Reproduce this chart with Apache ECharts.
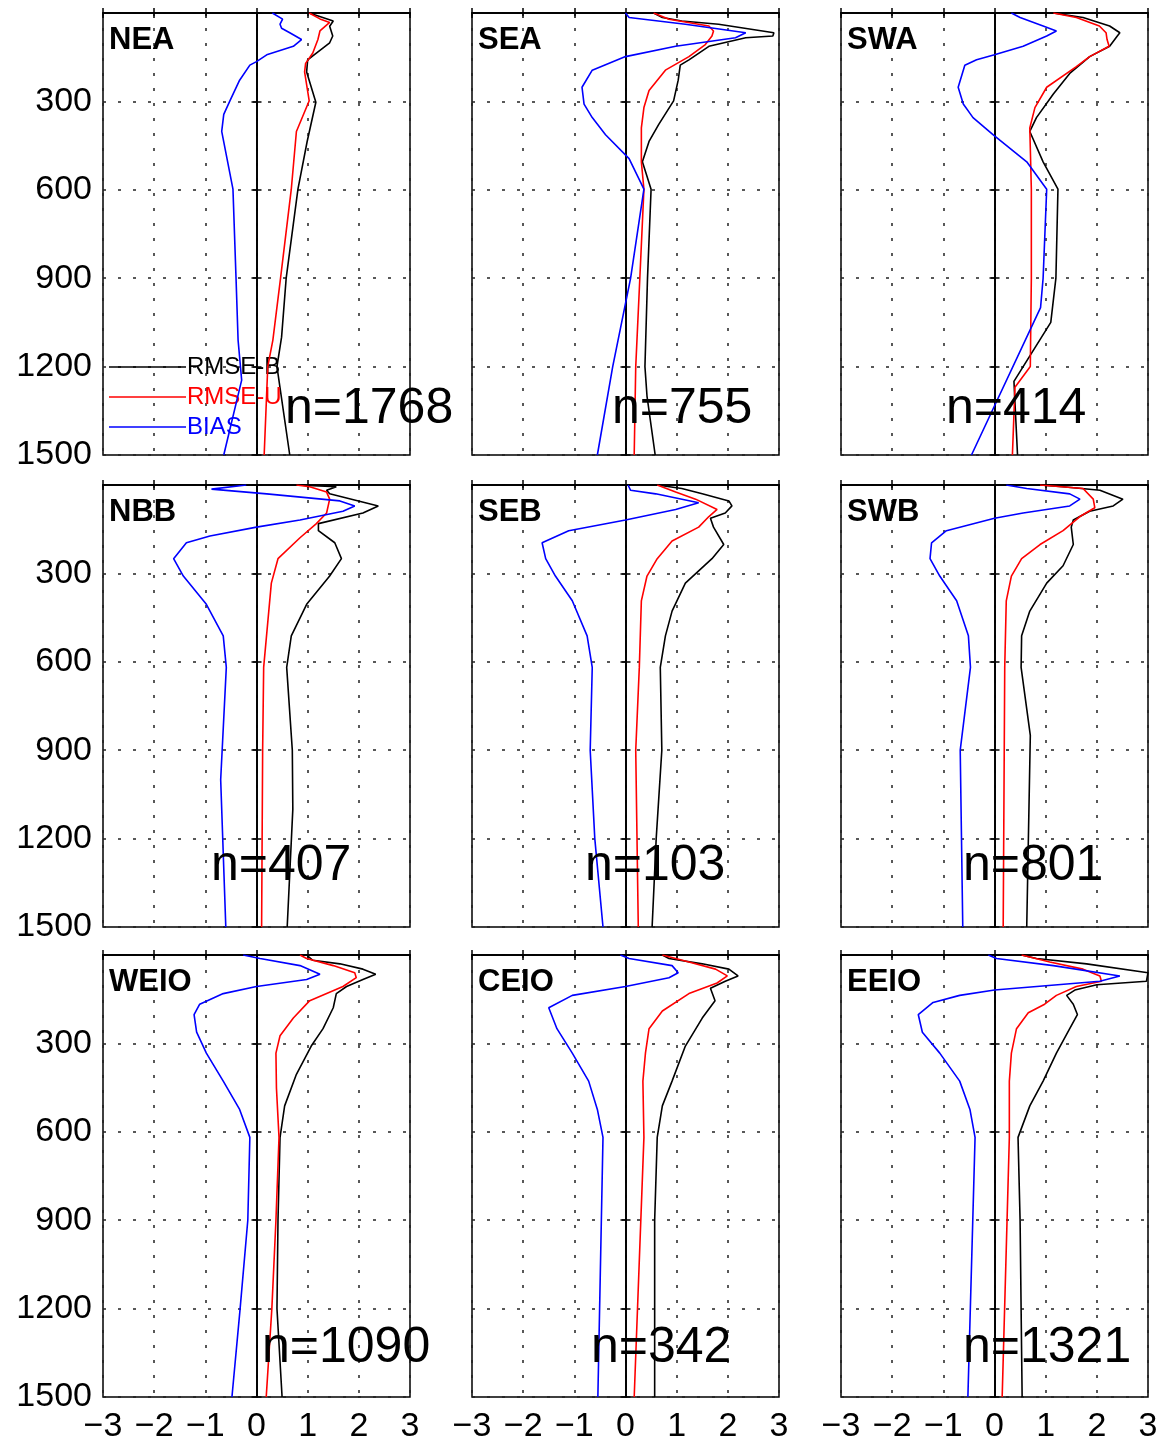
<!DOCTYPE html>
<html>
<head>
<meta charset="utf-8">
<script src="https://cdn.jsdelivr.net/npm/echarts@6/dist/echarts.min.js"></script>
<style>
  html, body { margin: 0; padding: 0; background: #fff; }
  #main { width: 1166px; height: 1442px; }
</style>
</head>
<body>
<div id="main"></div>
<script>
// region names and sample counts
var regions = ['NEA', 'SEA', 'SWA', 'NBB', 'SEB', 'SWB', 'WEIO', 'CEIO', 'EEIO'];
var counts = ['n=1768', 'n=755', 'n=414', 'n=407', 'n=103', 'n=801', 'n=1090', 'n=342', 'n=1321'];
var xTicks = [-3, -2, -1, 0, 1, 2, 3];
var depthTicks = [0, 300, 600, 900, 1200, 1500];

// NEA
var neaDepB = [0, 27, 45, 78, 101, 136, 159, 200, 303, 436, 598, 900, 1100, 1200, 1500];
var neaB    = [1.03, 1.5, 1.43, 1.49, 1.43, 1.17, 1.0, 0.98, 1.16, 0.99, 0.81, 0.58, 0.49, 0.4, 0.65];
var neaDepU = [0, 20, 32, 61, 90, 136, 171, 200, 298, 402, 598, 900, 1110, 1200, 1500];
var neaU    = [1.03, 1.24, 1.43, 1.24, 1.2, 1.1, 0.96, 0.94, 1.03, 0.78, 0.68, 0.47, 0.32, 0.22, 0.15];
var neaDepS = [0, 21, 38, 52, 67, 90, 113, 142, 165, 177, 228, 298, 344, 402, 598, 900, 1110, 1246, 1500];
var neaS    = [0.31, 0.51, 0.46, 0.49, 0.65, 0.88, 0.72, 0.2, 0, -0.13, -0.33, -0.52, -0.64, -0.68, -0.46, -0.4, -0.36, -0.29, -0.64];

// SEA
var seaDepB = [0, 15, 27, 38, 67, 78, 84, 113, 159, 177, 228, 298, 378, 436, 505, 598, 900, 1200, 1300, 1500];
var seaB    = [0.55, 0.72, 1.1, 1.82, 2.9, 2.88, 2.35, 1.63, 1.24, 1.07, 1.03, 0.94, 0.65, 0.46, 0.33, 0.5, 0.43, 0.38, 0.42, 0.58];
var seaDepU = [0, 21, 44, 61, 78, 107, 148, 194, 263, 321, 390, 505, 598, 900, 1200, 1500];
var seaU    = [0.55, 0.85, 1.63, 1.72, 1.69, 1.56, 1.24, 0.78, 0.46, 0.36, 0.31, 0.31, 0.36, 0.28, 0.2, 0.17];
var seaDepS = [0, 15, 38, 67, 84, 113, 148, 194, 252, 309, 355, 413, 494, 598, 900, 1200, 1500];
var seaS    = [0, 0.07, 1.17, 2.35, 2.15, 0.98, 0, -0.65, -0.85, -0.81, -0.65, -0.39, 0.07, 0.36, 0.1, -0.25, -0.55];

// SWA
var swaDepB = [0, 15, 44, 67, 78, 113, 148, 205, 275, 355, 402, 505, 598, 900, 1050, 1250, 1500];
var swaB    = [1.15, 1.73, 2.25, 2.45, 2.4, 2.25, 1.86, 1.47, 1.15, 0.82, 0.69, 0.95, 1.24, 1.2, 1.1, 0.38, 0.45];
var swaDepU = [0, 15, 44, 67, 90, 113, 148, 182, 252, 321, 390, 598, 900, 1200, 1270, 1500];
var swaU    = [1.15, 1.6, 2.05, 2.18, 2.2, 2.24, 1.86, 1.6, 1.02, 0.79, 0.69, 0.72, 0.72, 0.7, 0.4, 0.35];
var swaDepS = [0, 15, 44, 61, 78, 113, 142, 159, 177, 252, 309, 355, 413, 505, 598, 900, 1000, 1500];
var swaS    = [0.33, 0.5, 0.95, 1.21, 1.02, 0.56, 0, -0.35, -0.58, -0.71, -0.61, -0.42, -0.03, 0.63, 1.02, 0.95, 0.9, -0.45];

// NBB
var nbbDepB = [0, 6, 18, 30, 71, 95, 131, 155, 196, 250, 309, 405, 512, 619, 900, 1100, 1500];
var nbbB    = [0.78, 1.56, 1.37, 1.43, 2.38, 2.08, 1.21, 1.21, 1.53, 1.66, 1.43, 0.98, 0.68, 0.59, 0.7, 0.71, 0.6];
var nbbDepU = [0, 6, 24, 48, 95, 131, 179, 250, 333, 619, 900, 1500];
var nbbU    = [0.78, 1.04, 1.37, 1.43, 1.37, 1.17, 0.85, 0.42, 0.29, 0.14, 0.12, 0.1];
var nbbDepS = [0, 6, 14, 30, 54, 71, 89, 119, 143, 173, 196, 250, 309, 405, 512, 619, 1000, 1500];
var nbbS    = [-0.2, -0.23, -0.88, 0.2, 1.63, 1.92, 1.69, 0.85, 0, -0.91, -1.37, -1.62, -1.43, -0.98, -0.65, -0.59, -0.7, -0.6];

// SEB
var sebDepB = [0, 12, 30, 54, 71, 95, 113, 143, 202, 250, 333, 428, 512, 619, 900, 1200, 1500];
var sebB    = [0.62, 1.1, 1.5, 2.02, 2.08, 1.95, 1.66, 1.72, 1.92, 1.69, 1.17, 0.91, 0.78, 0.68, 0.71, 0.6, 0.52];
var sebDepU = [0, 24, 48, 83, 107, 143, 190, 250, 309, 393, 619, 900, 1500];
var sebU    = [0.62, 0.98, 1.37, 1.79, 1.63, 1.43, 0.91, 0.62, 0.42, 0.31, 0.27, 0.2, 0.25];
var sebDepS = [0, 18, 30, 60, 83, 119, 155, 196, 250, 309, 393, 512, 619, 900, 1200, 1500];
var sebS    = [0.05, 0.1, 0.59, 1.43, 0.98, 0, -1.11, -1.63, -1.56, -1.37, -1.04, -0.75, -0.65, -0.69, -0.6, -0.44];

// SWB
var swbDepB = [0, 6, 18, 48, 71, 89, 119, 143, 202, 274, 333, 428, 512, 619, 850, 1500];
var swbB    = [0.89, 1.34, 2.06, 2.51, 2.32, 1.86, 1.54, 1.5, 1.54, 1.34, 1.02, 0.69, 0.53, 0.52, 0.7, 0.63];
var swbDepU = [0, 12, 48, 77, 107, 155, 202, 250, 309, 393, 619, 1500];
var swbU    = [0.89, 1.73, 1.93, 1.96, 1.67, 1.34, 0.89, 0.53, 0.33, 0.23, 0.2, 0.17];
var swbDepS = [0, 12, 30, 48, 71, 95, 113, 155, 196, 250, 309, 393, 512, 619, 900, 1500];
var swbS    = [0.23, 0.63, 1.47, 1.67, 1.47, 0.56, 0, -0.94, -1.23, -1.26, -1.07, -0.74, -0.51, -0.47, -0.67, -0.62];

// WEIO
var weioDepB = [0, 18, 30, 48, 65, 83, 107, 131, 179, 250, 309, 405, 512, 619, 900, 1200, 1500];
var weioB    = [0.98, 1.1, 1.63, 2.08, 2.33, 2.08, 1.76, 1.56, 1.5, 1.3, 1.07, 0.78, 0.55, 0.46, 0.42, 0.4, 0.5];
var weioDepU = [0, 12, 36, 60, 77, 107, 155, 214, 274, 333, 452, 619, 900, 1200, 1500];
var weioU    = [0.85, 0.98, 1.5, 1.92, 1.95, 1.69, 1.04, 0.72, 0.46, 0.38, 0.39, 0.44, 0.38, 0.3, 0.19];
var weioDepS = [0, 12, 36, 65, 83, 107, 131, 167, 202, 262, 333, 428, 524, 619, 900, 1200, 1500];
var weioS    = [-0.26, 0.07, 0.85, 1.24, 0.98, 0, -0.65, -1.11, -1.22, -1.17, -0.98, -0.65, -0.33, -0.13, -0.17, -0.32, -0.48];

// CEIO
var ceioDepB = [0, 12, 30, 48, 71, 89, 113, 155, 214, 309, 428, 512, 619, 900, 1500];
var ceioB    = [0.72, 0.85, 1.5, 2.02, 2.2, 1.95, 1.66, 1.75, 1.5, 1.17, 0.91, 0.72, 0.62, 0.57, 0.57];
var ceioDepU = [0, 24, 48, 71, 95, 131, 190, 250, 333, 428, 619, 1500];
var ceioU    = [0.72, 1.24, 1.76, 1.99, 1.79, 1.24, 0.72, 0.46, 0.39, 0.34, 0.36, 0.17];
var ceioDepS = [0, 12, 36, 60, 77, 107, 137, 179, 250, 333, 428, 524, 619, 1500];
var ceioS    = [-0.1, 0.07, 0.91, 1.03, 0.85, 0, -1.04, -1.5, -1.34, -1.04, -0.72, -0.55, -0.44, -0.54];

// EEIO
var eeioDepB = [0, 12, 30, 60, 89, 101, 119, 137, 167, 202, 250, 333, 428, 512, 619, 900, 1500];
var eeioB    = [0.53, 0.82, 1.8, 3.0, 2.97, 2.0, 1.57, 1.41, 1.54, 1.62, 1.47, 1.21, 0.95, 0.69, 0.46, 0.5, 0.54];
var eeioDepU = [0, 24, 48, 71, 89, 107, 137, 167, 196, 250, 333, 428, 619, 1500];
var eeioU    = [0.53, 1.08, 1.73, 2.06, 2.09, 1.6, 1.21, 0.98, 0.66, 0.43, 0.33, 0.29, 0.29, 0.15];
var eeioDepS = [0, 12, 36, 71, 89, 119, 137, 161, 202, 262, 333, 428, 524, 619, 1500];
var eeioS    = [-0.12, 0.04, 1.15, 2.45, 2.06, 0, -0.68, -1.2, -1.49, -1.41, -1.07, -0.68, -0.48, -0.38, -0.52];

var profiles = [
    [neaB, neaDepB, neaU, neaDepU, neaS, neaDepS],
    [seaB, seaDepB, seaU, seaDepU, seaS, seaDepS],
    [swaB, swaDepB, swaU, swaDepU, swaS, swaDepS],
    [nbbB, nbbDepB, nbbU, nbbDepU, nbbS, nbbDepS],
    [sebB, sebDepB, sebU, sebDepU, sebS, sebDepS],
    [swbB, swbDepB, swbU, swbDepU, swbS, swbDepS],
    [weioB, weioDepB, weioU, weioDepU, weioS, weioDepS],
    [ceioB, ceioDepB, ceioU, ceioDepU, ceioS, ceioDepS],
    [eeioB, eeioDepB, eeioU, eeioDepU, eeioS, eeioDepS]
];
var lineNames = ['RMSE-B', 'RMSE-U', 'BIAS'];
var lineColors = ['#000000', '#ff0000', '#0000ff'];

// layout
var colLeft = [103, 472, 841];
var rowTop = [13, 485, 955];
var panelW = 307, panelH = 442;
var numFont = '"Liberation Sans Narrow", "Arial Narrow", "Liberation Sans", Arial, sans-serif';
var nPos = [[285, 411], [612, 411], [946, 411], [211, 868], [585, 868], [963, 868], [262, 1350], [591, 1350], [963, 1350]];

function zip(xs, ys) {
    var out = [];
    for (var i = 0; i < xs.length; i++) out.push([xs[i], ys[i]]);
    return out;
}

var grids = [], xAxes = [], yAxes = [], series = [], graphics = [];
for (var p = 0; p < 9; p++) {
    var r = Math.floor(p / 3), c = p % 3;
    grids.push({
        left: colLeft[c], top: rowTop[r], width: panelW, height: panelH,
        containLabel: false, outerBoundsMode: 'none',
        show: true, borderColor: '#000', borderWidth: 1.5, backgroundColor: '#fff'
    });
    xAxes.push({
        type: 'value', gridIndex: p, min: -3, max: 3, interval: 1,
        axisLine: {show: true, lineStyle: {color: '#000', width: 1.5}},
        axisTick: {show: true, inside: true, length: 5, lineStyle: {color: '#000', width: 1.5}},
        splitLine: {show: true, lineStyle: {color: '#222', width: 1.5, type: [3, 12]}},
        axisLabel: {
            show: r === 2, margin: 13, color: '#000', fontSize: 34, fontFamily: numFont,
            formatter: function (v) { return v < 0 ? '\u2212' + (-v) : '' + v; }
        }
    });
    xAxes.push({
        type: 'value', gridIndex: p, min: -3, max: 3, interval: 1, position: 'top',
        axisLine: {show: true, lineStyle: {color: '#000', width: 1.5}},
        axisTick: {show: true, inside: true, length: 5, lineStyle: {color: '#000', width: 1.5}},
        splitLine: {show: false}, axisLabel: {show: false}
    });
    yAxes.push({
        type: 'value', gridIndex: p, min: 0, max: 1500, interval: 300, inverse: true,
        axisLine: {show: true, lineStyle: {color: '#000', width: 1.5}},
        axisTick: {show: true, inside: true, length: 5, lineStyle: {color: '#000', width: 1.5}},
        splitLine: {show: true, lineStyle: {color: '#222', width: 1.5, type: [3, 12]}},
        axisLabel: {
            show: c === 0, margin: 11, color: '#000', fontSize: 34, fontFamily: numFont,
            formatter: function (v) { return v === 0 ? '' : '' + v; }
        }
    });
    yAxes.push({
        type: 'value', gridIndex: p, min: 0, max: 1500, interval: 300, inverse: true, position: 'right',
        axisLine: {show: true, lineStyle: {color: '#000', width: 1.5}},
        axisTick: {show: true, inside: true, length: 5, lineStyle: {color: '#000', width: 1.5}},
        splitLine: {show: false}, axisLabel: {show: false}
    });
    var prof = profiles[p];
    for (var k = 0; k < 3; k++) {
        var s = {
            name: lineNames[k], type: 'line', xAxisIndex: 2 * p, yAxisIndex: 2 * p,
            data: zip(prof[2 * k], prof[2 * k + 1]),
            symbol: 'none', smooth: false, clip: true,
            lineStyle: {color: lineColors[k], width: 1.6},
            itemStyle: {color: lineColors[k]},
            z: 3 + k
        };
        if (k === 0) {
            s.markLine = {
                silent: true, symbol: 'none', label: {show: false},
                lineStyle: {color: '#000', type: 'solid', width: 1.5},
                data: [{xAxis: 0}]
            };
        }
        series.push(s);
    }
    graphics.push({
        type: 'text', left: colLeft[c] + 6, top: rowTop[r] + 12, z: 10,
        style: {text: regions[p], fill: '#000', font: 'bold 31px "Liberation Sans", Arial, sans-serif'}
    });
    graphics.push({
        type: 'text', left: nPos[p][0], top: nPos[p][1] - 27, z: 10,
        style: {text: counts[p], fill: '#000', font: '50px "Liberation Sans", Arial, sans-serif'}
    });
}

var myChart = echarts.init(document.getElementById('main'));
var option = {
    backgroundColor: '#fff',
    animation: false,
    grid: grids,
    xAxis: xAxes,
    yAxis: yAxes,
    legend: {
        orient: 'vertical', left: 104, top: 350,
        icon: 'rect', itemWidth: 77, itemHeight: 1.5, itemGap: 6,
        textStyle: {fontSize: 24, fontFamily: '"Liberation Sans", Arial, sans-serif', lineHeight: 23, padding: [0, 0, 0, -4]},
        data: [
            {name: 'RMSE-B', textStyle: {color: '#000'}},
            {name: 'RMSE-U', textStyle: {color: '#ff0000'}},
            {name: 'BIAS', textStyle: {color: '#0000ff'}}
        ],
        selectedMode: false
    },
    graphic: graphics,
    series: series
};
myChart.setOption(option);

window.addEventListener('resize', function () {
    myChart.resize();
});
</script>
</body>
</html>
